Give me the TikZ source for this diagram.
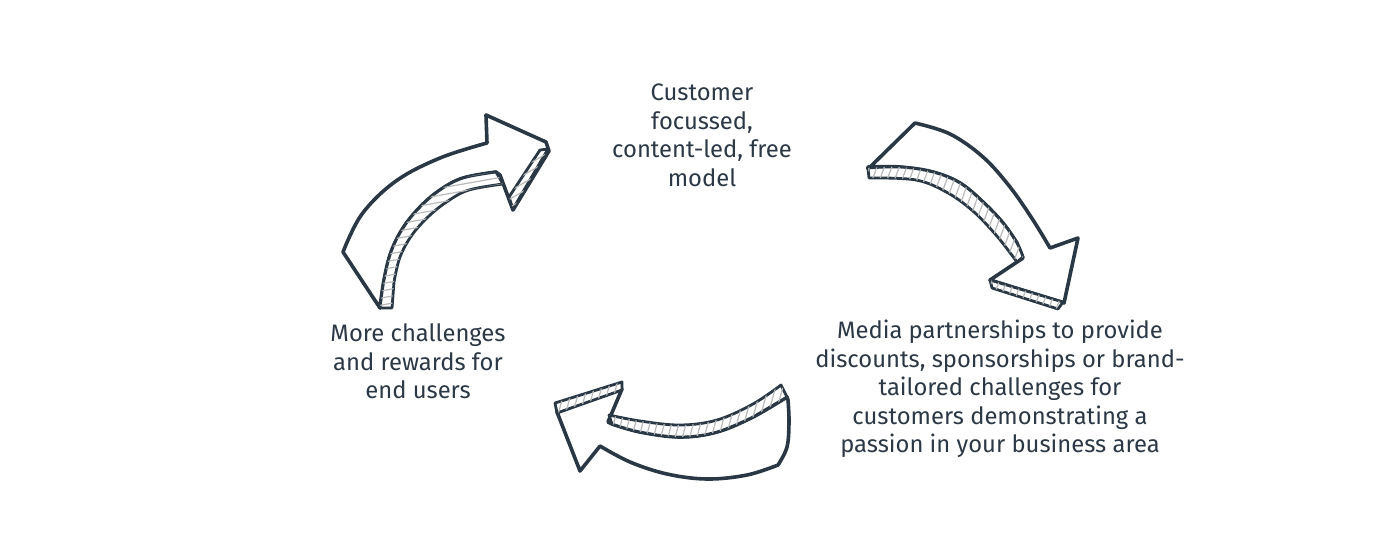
\documentclass[tikz,border=0pt]{standalone}
\usepackage{fontspec}
\setmainfont{Fira Sans}
\usetikzlibrary{patterns.meta}
\definecolor{ink}{RGB}{42,55,68}
\definecolor{txt}{RGB}{44,56,70}
\tikzset{
  face/.style={draw=ink, line width=3.6pt, line join=round, line cap=round, fill=white},
  strip/.style={draw=ink, line width=2.8pt, line join=round, line cap=round, fill=white,
     postaction={pattern={Lines[angle=#1,distance=7pt,line width=1.2pt]}, pattern color=gray!55}},
  lbl/.style={text=txt, align=center, font=\fontsize{23.8}{28.5}\selectfont, inner sep=0pt}
}
\begin{document}
\begin{tikzpicture}[x=1pt,y=-1pt]
\useasboundingbox[fill=white] (0,0) rectangle (1400,550);

% ---- arrow 1 (top left, pointing right)
\draw[face] plot[smooth,tension=0.6] coordinates {(343,252) (362,214) (396,181) (440,158) (487,143)}
  -- (486,115) -- (546,142) -- (549,151) -- (513,210) -- (500,175)
  -- plot[smooth,tension=0.6] coordinates {(496,172) (463,178) (440,190) (420,207) (403,228) (391,252) (384,280) (380,308)}
  -- cycle;
\draw[strip=10] plot[smooth,tension=0.6] coordinates {(496,172) (463,178) (440,190) (420,207) (403,228) (391,252) (384,280) (380,308)}
  -- (392,308) -- plot[smooth,tension=0.6] coordinates {(394,282) (400,257) (412,235) (429,216) (448,201) (469,190) (503,184)} -- cycle;
\draw[strip=30] (548,149) -- (513,209) -- (509,197) -- (540,150) -- cycle;

% ---- arrow 2 (top right, pointing down)
\draw[face] (868,169) -- (915,123)
  -- plot[smooth,tension=0.6] coordinates {(915,123) (950,134) (983,157) (1010,187) (1033,220) (1050,248)}
  -- (1078,238) -- (1064,303) -- (990,280) -- (1023,258)
  -- plot[smooth,tension=0.6] coordinates {(1017,243) (1003,223) (983,202) (960,183) (933,172) (900,167) (868,167)}
  -- cycle;
\draw[strip=70] plot[smooth,tension=0.6] coordinates {(868,168) (900,167) (933,172) (960,183) (983,202) (1003,223) (1017,243) (1023,257)}
  -- plot[smooth,tension=0.6] coordinates {(1017,262) (1011,254) (996,235) (974,212) (948,193) (916,180) (869,178)} -- cycle;
\draw[strip=70] (990,280) -- (1063,302) -- (1058,309) -- (992,288) -- cycle;

% ---- arrow 3 (bottom, pointing left)
\draw[face] (608,422)
  -- plot[smooth,tension=0.6] coordinates {(612,424) (640,432) (680,437) (717,432) (753,417) (787,397)}
  -- plot[smooth,tension=0.6] coordinates {(788,400) (789,422) (787,447) (778,465)}
  -- plot[smooth,tension=0.6] coordinates {(778,465) (747,475) (707,479) (667,474) (630,462) (600,446)}
  -- (580,471) -- (557,412) -- (622,389) -- cycle;
\draw[strip=75] plot[smooth,tension=0.6] coordinates {(609,415) (640,421) (680,425) (717,420) (753,404) (781,385)}
  -- (787,397) -- plot[smooth,tension=0.6] coordinates {(753,417) (717,432) (680,437) (640,432) (612,424)} -- cycle;
\draw[strip=75] (555,403) -- (622,382) -- (622,390) -- (557,413) -- cycle;

% ---- labels
\node[lbl] (t1) at (702,135.5) {Customer\\focussed,\\content-led, free\\model};
\node[lbl] (t2) at (1000,389) {Media partnerships to provide\\discounts, sponsorships or brand-\\tailored challenges for\\customers demonstrating a\\passion in your business area};
\node[lbl] (t3) at (418,361.5) {More challenges\\and rewards for\\end users};
\end{tikzpicture}
\end{document}
